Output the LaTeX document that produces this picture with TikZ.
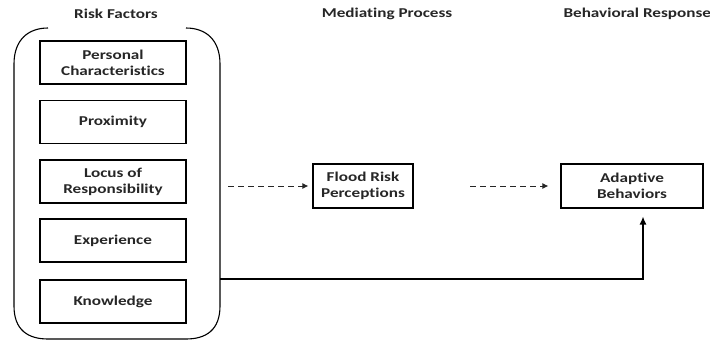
\documentclass[tikz,border=0pt]{standalone}
\usepackage{fontspec}
\setmainfont{Carlito}[FakeStretch=1.27, RawFeature=-liga]
\usetikzlibrary{arrows.meta}
\begin{document}
\begin{tikzpicture}[x=1pt,y=-1pt,
  every node/.style={font=\bfseries\fontsize{13.5}{16}\selectfont, text=black!85},
  factor/.style={draw, line width=1.1pt, minimum width=146pt, minimum height=43pt, align=center, inner sep=0pt},
  outbox/.style={draw, line width=1.1pt, minimum height=44pt, align=center, inner sep=0pt},
  title/.style={anchor=center},
  dasharrow/.style={dashed, dash pattern=on 6pt off 4pt, line width=1pt, -{Latex[length=6pt,width=6pt]}, draw=black!85},
  solidarrow/.style={line width=1.2pt, -{Latex[length=8pt,width=7pt]}}]
\useasboundingbox (0,0) rectangle (710,341);
\node[title] (t1) at (116,14) {Risk Factors};
\node[title] (t2) at (387,14) {Mediating Process};
\node[title,anchor=west] (t3) at (560,14) {Behavioral Response};
% container
\draw[line width=1.1pt] (48,28) .. controls (28,28) and (14,40) .. (14,64) -- (14,306) .. controls (14,330) and (28,339) .. (48,339) -- (186,339) .. controls (206,339) and (220,330) .. (220,306) -- (220,64) .. controls (220,40) and (206,28) .. (186,28);
\node[factor] (f1) at (113,62.5) {Personal\\Characteristics};
\node[factor] (f2) at (113,122) {Proximity};
\node[factor] (f3) at (113,181.5) {Locus of\\Responsibility};
\node[factor] (f4) at (113,240.5) {Experience};
\node[factor] (f5) at (113,301.5) {Knowledge};
\coordinate (c) at (228,186);
\coordinate (d) at (470,186);
\coordinate (k) at (220,279);
\coordinate (bend) at (643,279);
\node[outbox, minimum width=100pt] (frp) at (363,186) {Flood Risk\\Perceptions};
\node[outbox, minimum width=142pt] (ab) at (632,186) {Adaptive\\Behaviors};
\draw[dasharrow] (c) -- ([xshift=-4pt]frp.west);
\draw[dasharrow] (d) -- ([xshift=-12pt]ab.west);
\draw[solidarrow] (k) -- (bend) -- ([yshift=-8pt]ab.south -| bend);
\end{tikzpicture}
\end{document}
